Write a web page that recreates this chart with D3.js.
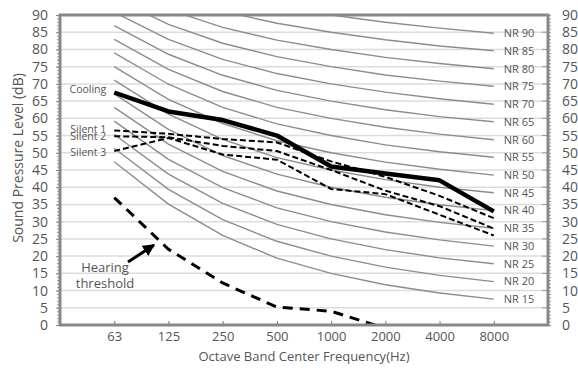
<!DOCTYPE html>
<html>
<head>
<meta charset="utf-8">
<script src="https://cdn.jsdelivr.net/npm/d3@7"></script>
<style>
  body { margin: 0; background: #fff; }
  text { font-family: "Open Sans", "Noto Sans", sans-serif; fill: #555; }
</style>
</head>
<body>
<svg id="chart" width="578" height="369"></svg>
<script>
// octave bands
const freqs = ['63', '125', '250', '500', '1000', '2000', '4000', '8000'];
const yTicks = d3.range(0, 91, 5);

// NR curves, values read per band
const nrLevels = [15, 20, 25, 30, 35, 40, 45, 50, 55, 60, 65, 70, 75, 80, 85, 90];
const nr15 = [47.4, 35.1, 26.0, 19.4, 15, 11.7, 9.3, 7.5];
const nr20 = [51.3, 39.4, 30.6, 24.3, 20, 16.8, 14.4, 12.6];
const nr25 = [55.3, 43.8, 35.3, 29.2, 25, 21.9, 19.5, 17.8];
const nr30 = [59.2, 48.1, 39.9, 34.0, 30, 27.0, 24.7, 22.9];
const nr35 = [63.2, 52.5, 44.6, 38.9, 35, 32.0, 29.8, 28.1];
const nr40 = [67.1, 56.8, 49.2, 43.8, 40, 37.1, 34.9, 33.2];
const nr45 = [71.1, 61.2, 53.9, 48.6, 45, 42.2, 40.0, 38.4];
const nr50 = [75.0, 65.5, 58.5, 53.5, 50, 47.3, 45.2, 43.5];
const nr55 = [79.0, 69.9, 63.2, 58.4, 55, 52.3, 50.3, 48.7];
const nr60 = [82.9, 74.2, 67.8, 63.2, 60, 57.4, 55.4, 53.8];
const nr65 = [86.9, 78.6, 72.5, 68.1, 65, 62.5, 60.5, 59.0];
const nr70 = [90.8, 82.9, 77.1, 73.0, 70, 67.6, 65.7, 64.1];
const nr75 = [94.8, 87.3, 81.8, 77.9, 75, 72.6, 70.8, 69.3];
const nr80 = [98.7, 91.6, 86.4, 82.7, 80, 77.7, 75.9, 74.4];
const nr85 = [102.7, 96.0, 91.1, 87.6, 85, 82.8, 81.0, 79.6];
const nr90 = [106.6, 100.3, 95.7, 92.5, 90, 87.9, 86.2, 84.7];
const nrCurves = [nr15, nr20, nr25, nr30, nr35, nr40, nr45, nr50,
                  nr55, nr60, nr65, nr70, nr75, nr80, nr85, nr90];

// measured series
const cooling = [67.5, 62, 59.5, 55, 46, 44, 42, 33];
const silent1 = [56.5, 55.5, 54, 53, 47.5, 43, 37.5, 31];
const silent2 = [54.8, 54.5, 52, 50.5, 45, 39, 34.5, 28];
const silent3 = [50.5, 54.3, 49.5, 48, 39.5, 38, 32, 26];
const hearing = [37, 22, 12.2, 5.2, 4, -1];

const svg = d3.select('#chart');
const margin = {top: 15, right: 30, bottom: 44, left: 60};
const w = 578 - margin.left - margin.right;
const h = 369 - margin.top - margin.bottom;

const g = svg.append('g').attr('transform', `translate(${margin.left},${margin.top})`);

const x = d3.scalePoint().domain(freqs).range([0, w]).padding(1);
const y = d3.scaleLinear().domain([0, 90]).range([h, 0]);

g.append('clipPath').attr('id', 'clip')
  .append('rect').attr('width', w).attr('height', h);

// grid
g.append('g').selectAll('line')
  .data(yTicks.filter(d => d > 0 && d < 90))
  .join('line')
  .attr('x1', 0).attr('x2', w)
  .attr('y1', d => y(d)).attr('y2', d => y(d))
  .attr('stroke', '#dcdcdc').attr('stroke-width', 1.5);

const line = d3.line().x((d, i) => x(freqs[i])).y(d => y(d));

const plot = g.append('g').attr('clip-path', 'url(#clip)');

// NR curves
plot.selectAll('.nr')
  .data(nrCurves)
  .join('path')
  .attr('class', 'nr')
  .attr('d', line)
  .attr('fill', 'none')
  .attr('stroke', '#8c8c8c')
  .attr('stroke-width', 1.4);

// NR labels
g.selectAll('.nrlab')
  .data(nrCurves)
  .join('text')
  .attr('class', 'nrlab')
  .attr('x', x('8000') + 10)
  .attr('y', d => y(d[7]))
  .attr('dy', '0.35em')
  .attr('font-size', 11)
  .text((d, i) => 'NR ' + nrLevels[i]);

// hearing threshold
plot.append('path')
  .attr('d', line(hearing))
  .attr('fill', 'none')
  .attr('stroke', '#000')
  .attr('stroke-width', 3)
  .attr('stroke-dasharray', '10,7');

// silent modes
[silent1, silent2, silent3].forEach(s => {
  plot.append('path')
    .attr('d', line(s))
    .attr('fill', 'none')
    .attr('stroke', '#000')
    .attr('stroke-width', 2)
    .attr('stroke-dasharray', '6,3');
});

// cooling
plot.append('path')
  .attr('d', line(cooling))
  .attr('fill', 'none')
  .attr('stroke', '#000')
  .attr('stroke-width', 4.5)
  .attr('stroke-linejoin', 'round');

// series labels
const seriesLabels = [
  {name: 'Cooling', v: cooling[0], dy: -3},
  {name: 'Silent 1', v: silent1[0], dy: -1.5},
  {name: 'Silent 2', v: silent2[0], dy: 0.5},
  {name: 'Silent 3', v: silent3[0], dy: 1}
];
g.selectAll('.slab')
  .data(seriesLabels)
  .join('text')
  .attr('class', 'slab')
  .attr('x', x('63') - 8)
  .attr('y', d => y(d.v) + d.dy)
  .attr('dy', '0.35em')
  .attr('text-anchor', 'end')
  .attr('font-size', 10.5)
  .text(d => d.name);

// hearing threshold annotation
g.append('defs').append('marker')
  .attr('id', 'arrow')
  .attr('viewBox', '0 0 10 10')
  .attr('refX', 9).attr('refY', 5)
  .attr('markerWidth', 4).attr('markerHeight', 4)
  .attr('orient', 'auto')
  .append('path').attr('d', 'M0,0L10,5L0,10z').attr('fill', '#000');

g.append('line')
  .attr('x1', 128 - margin.left).attr('y1', 262 - margin.top)
  .attr('x2', 154 - margin.left).attr('y2', 245 - margin.top)
  .attr('stroke', '#000').attr('stroke-width', 3)
  .attr('marker-end', 'url(#arrow)');

const ann = g.append('text')
  .attr('text-anchor', 'middle')
  .attr('font-size', 13);
ann.append('tspan').attr('x', 105 - margin.left).attr('y', 272 - margin.top).text('Hearing');
ann.append('tspan').attr('x', 105 - margin.left).attr('y', 288 - margin.top).text('threshold');

// minor ticks
g.append('g')
  .call(d3.axisLeft(y).ticks(90).tickSize(3).tickFormat(''))
  .call(a => a.select('.domain').remove())
  .selectAll('line').attr('stroke', '#999');
g.append('g').attr('transform', `translate(${w},0)`)
  .call(d3.axisRight(y).ticks(90).tickSize(3).tickFormat(''))
  .call(a => a.select('.domain').remove())
  .selectAll('line').attr('stroke', '#999');

// left axis labels
g.append('g')
  .call(d3.axisLeft(y).tickValues(yTicks).tickSize(4).tickPadding(8))
  .call(a => a.select('.domain').remove())
  .call(a => a.selectAll('line').attr('stroke', '#888'))
  .call(a => a.selectAll('text').attr('font-size', 14).attr('fill', '#555')
    .style('font-family', '"Open Sans", sans-serif'));

// right axis labels with inward ticks
g.append('g').attr('transform', `translate(${w},0)`)
  .call(d3.axisRight(y).tickValues(yTicks).tickSize(0).tickPadding(14))
  .call(a => a.select('.domain').remove())
  .call(a => a.selectAll('text').attr('font-size', 14).attr('fill', '#555')
    .style('font-family', '"Open Sans", sans-serif'));
g.append('g').selectAll('line')
  .data(yTicks)
  .join('line')
  .attr('x1', w - 6).attr('x2', w)
  .attr('y1', d => y(d)).attr('y2', d => y(d))
  .attr('stroke', '#999');

// bottom axis
g.append('g').attr('transform', `translate(0,${h})`)
  .call(d3.axisBottom(x).tickSize(-4).tickPadding(7))
  .call(a => a.select('.domain').remove())
  .call(a => a.selectAll('line').attr('stroke', '#777'))
  .call(a => a.selectAll('text').attr('font-size', 13).attr('fill', '#555')
    .style('font-family', '"Open Sans", sans-serif'));

// frame
g.append('rect')
  .attr('width', w).attr('height', h)
  .attr('fill', 'none')
  .attr('stroke', '#888')
  .attr('stroke-width', 3);

// titles
svg.append('text')
  .attr('x', margin.left + w / 2).attr('y', 361)
  .attr('text-anchor', 'middle')
  .attr('font-size', 13)
  .text('Octave Band Center Frequency(Hz)');

svg.append('text')
  .attr('transform', 'translate(23,158) rotate(-90)')
  .attr('text-anchor', 'middle')
  .attr('font-size', 14)
  .text('Sound Pressure Level (dB)');
</script>
</body>
</html>
